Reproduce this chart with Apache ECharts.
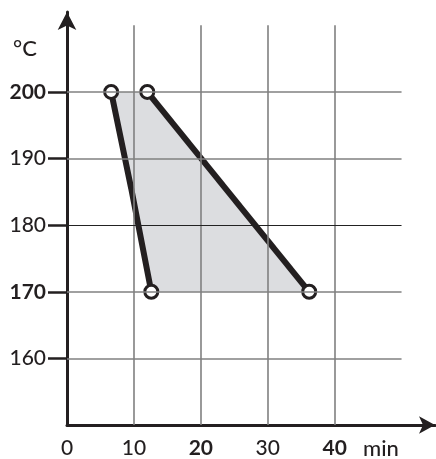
<!DOCTYPE html>
<html><head><meta charset="utf-8">
<script src="https://cdn.jsdelivr.net/npm/echarts@6/dist/echarts.min.js"></script>
<style>html,body{margin:0;padding:0;background:#fff}#c{width:436px;height:459px}</style>
</head><body><div id="c"></div>
<script>
// Data
var xTicks = [0, 10, 20, 30, 40];
var yTicks = [160, 170, 180, 190, 200];
var boldX = [20, 40];
var boldY = [170, 200];
var gridX = [10, 20, 30, 40];
var gridY = [160, 170, 180, 190, 200];
var leftX = [6.6, 9.6, 12.6];
var leftY = [200, 185.5, 170];
var rightX = [12, 36.2];
var rightY = [200, 170];

var INK = '#231f20';
var FONT = 'Lato';

var gridLines = [];
gridX.forEach(function (x) {
  gridLines.push([{coord: [x, 150]}, {coord: [x, 210]}]);
});
gridY.forEach(function (y) {
  var thin = (y === 180);
  gridLines.push([{coord: [0, y], lineStyle: {color: thin ? '#222' : '#808080', width: thin ? 1 : 1.6}}, {coord: [50, y]}]);
});

var leftData = leftX.map(function (x, i) {
  return {value: [x, leftY[i]], symbol: (i === 0 || i === leftX.length - 1) ? 'circle' : 'none'};
});
var rightData = rightX.map(function (x, i) { return [x, rightY[i]]; });
var polyPts = rightData.concat(leftX.map(function (x, i) { return [x, leftY[i]]; }).reverse());

var chart = echarts.init(document.getElementById('c'));
chart.setOption({
  animation: false,
  grid: {left: 67, right: 1, top: 12, bottom: 31, containLabel: false},
  xAxis: {
    type: 'value', min: 0, max: 55, interval: 10,
    axisLine: {show: true, symbol: ['none', 'arrow'], symbolSize: [13, 16], lineStyle: {color: INK, width: 3}},
    axisTick: {show: false},
    splitLine: {show: false},
    axisLabel: {
      customValues: xTicks, margin: 13, fontSize: 21, fontWeight: 500, color: INK, fontFamily: FONT,
      formatter: function (v) { return boldX.indexOf(v) >= 0 ? '{b|' + v + '}' : '' + v; },
      rich: {b: {fontSize: 21, fontWeight: 'bold', color: INK, fontFamily: FONT}}
    }
  },
  yAxis: {
    type: 'value', min: 150, max: 212, interval: 10,
    axisLine: {show: true, symbol: ['none', 'arrow'], symbolSize: [14, 18], lineStyle: {color: INK, width: 3}},
    axisTick: {show: true, customValues: yTicks, length: 19, lineStyle: {color: INK, width: 2.5}},
    splitLine: {show: false},
    axisLabel: {
      customValues: yTicks, margin: 21, fontSize: 21, fontWeight: 500, color: INK, fontFamily: FONT,
      formatter: function (v) { return boldY.indexOf(v) >= 0 ? '{b|' + v + '}' : '' + v; },
      rich: {b: {fontSize: 21, fontWeight: 'bold', color: INK, fontFamily: FONT}}
    }
  },
  graphic: [
    {type: 'text', left: 13, top: 38, style: {text: '°C', fontSize: 22, fontWeight: 500, fontFamily: FONT, fill: INK}},
    {type: 'text', left: 363, top: 438, style: {text: 'min', fontSize: 22, fontWeight: 500, fontFamily: FONT, fill: INK}}
  ],
  series: [
    {
      type: 'line', data: [], z: 1, silent: true,
      markLine: {silent: true, symbol: 'none', label: {show: false}, animation: false,
        lineStyle: {color: '#808080', width: 1.6, type: 'solid'}, data: gridLines}
    },
    {
      type: 'custom', z: 2, silent: true, data: [0],
      renderItem: function (params, api) {
        return {type: 'polygon', shape: {points: polyPts.map(function (p) { return api.coord(p); })},
          style: {fill: '#dcdde0', stroke: 'none'}};
      }
    },
    {
      type: 'line', z: 3, data: leftData, symbol: 'circle', symbolSize: 13,
      lineStyle: {color: INK, width: 6}, itemStyle: {color: '#fff', borderColor: INK, borderWidth: 3}
    },
    {
      type: 'line', z: 3, data: rightData, symbol: 'circle', symbolSize: 13,
      lineStyle: {color: INK, width: 6}, itemStyle: {color: '#fff', borderColor: INK, borderWidth: 3}
    }
  ]
});
</script></body></html>
